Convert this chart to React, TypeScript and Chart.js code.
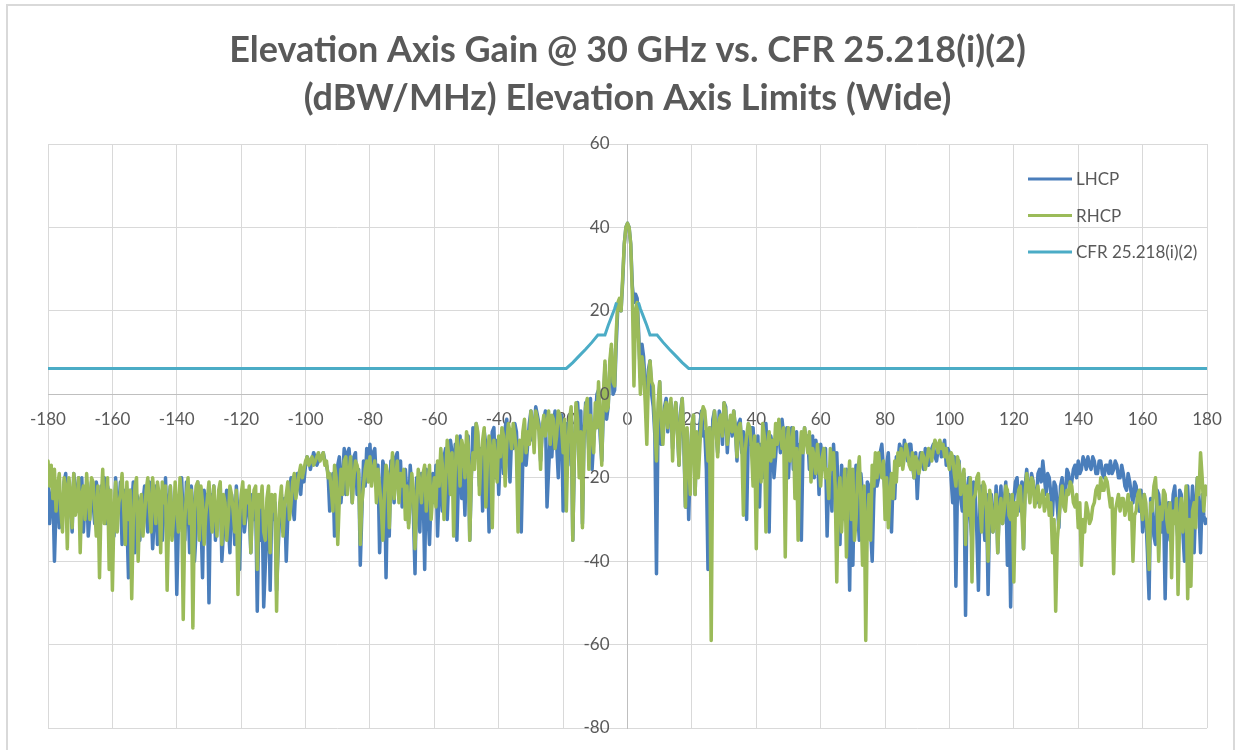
import React, { useEffect, useRef } from "react";
import { Chart, registerables } from "chart.js";

Chart.register(...registerables);

const TITLE_LINES = [
  "Elevation Axis Gain @ 30 GHz vs. CFR 25.218(i)(2)",
  "(dBW/MHz) Elevation Axis Limits (Wide)",
];
const SERIES_NAMES = ["LHCP", "RHCP", "CFR 25.218(i)(2)"];
const SERIES_COLORS = ["#4a7ebb", "#9bbb59", "#4bacc6"];

const ANGLE_START = -180;
const ANGLE_STEP = 0.5;

// LHCP gain (dBW/MHz), every 0.5 degree from -180 to 180
const LHCP = [
  -20, -31, -25, -22, -40, -27, -22, -32, -24, -29, -21, -19, -30, -21, -26, -33, -19, -23, -28, -20,
  -24, -20, -33, -26, -22, -34, -29, -21, -26, -31, -21, -24, -35, -22, -25, -20, -31, -22, -24, -36,
  -29, -34, -20, -28, -27, -21, -36, -24, -23, -30, -44, -23, -27, -21, -38, -24, -25, -35, -30, -26,
  -22, -27, -33, -21, -26, -37, -30, -22, -36, -25, -24, -35, -28, -20, -34, -26, -22, -31, -29, -25,
  -48, -31, -26, -20, -30, -35, -21, -26, -38, -22, -27, -40, -33, -21, -25, -29, -44, -23, -30, -24,
  -50, -24, -28, -22, -35, -30, -26, -22, -40, -33, -27, -23, -31, -38, -24, -27, -36, -22, -29, -42,
  -27, -23, -33, -29, -24, -28, -38, -24, -30, -25, -52, -29, -35, -26, -51, -41, -32, -24, -47, -27,
  -30, -26, -47, -37, -28, -24, -33, -25, -40, -29, -24, -20, -27, -30, -21, -19, -22, -24, -18, -21,
  -17, -15, -16, -18, -16, -14, -15, -17, -16, -15, -15, -14, -16, -17, -19, -28, -22, -19, -34, -30,
  -17, -15, -26, -20, -13, -24, -14, -13, -18, -26, -15, -14, -24, -18, -41, -28, -16, -22, -13, -19,
  -12, -20, -14, -13, -21, -17, -38, -26, -16, -18, -44, -22, -34, -16, -20, -26, -15, -14, -24, -16,
  -27, -21, -18, -24, -31, -17, -22, -29, -43, -20, -25, -33, -19, -22, -42, -18, -28, -36, -24, -19,
  -26, -17, -34, -23, -20, -28, -15, -13, -30, -19, -11, -14, -22, -12, -35, -20, -10, -25, -18, -29,
  -14, -10, -35, -20, -8, -15, -7, -10, -22, -13, -28, -9, -12, -16, -33, -14, -9, -8, -20, -11,
  -24, -14, -11, -19, -8, -6, -14, -21, -10, -13, -7, -9, -18, -12, -33, -15, -9, -17, -12, -7,
  -4, -11, -8, -3, -5, -7, -16, -9, -6, -4, -27, -18, -10, -15, -7, -4, -12, -20, -6, -5,
  -28, -12, -7, -17, -6, -4, -35, -15, -3, -2, -9, -4, -31, -10, -2, -6, -14, -1, -18, -11,
  -6, 0, 1, -10, -16, -4, 7, -6, -3, 6, 11, 0, 1, 12, 21, 22, 20, 27, 36, 40,
  41,
  40, 36, 26, 22, 24, 23, 14, 4, 12, 9, 2, -4, 6, 8, 0, -3, -10, -43, -6, 3,
  -12, -10, -3, -1, -9, -3, -2, -13, -6, -2, -8, -17, -4, -1, -12, -27, -9, -30, -16, -8,
  -5, -24, -10, -16, -7, -4, -10, -9, -18, -42, -8, -20, -6, -4, -9, -14, -4, -6, -12, -2,
  -3, -14, -7, -6, -10, -4, -8, -16, -7, -6, -14, -9, -15, -30, -10, -12, -8, -8, -15, -22,
  -10, -27, -12, -20, -9, -7, -17, -33, -10, -12, -20, -15, -9, -9, -14, -6, -10, -12, -8, -20,
  -11, -8, -18, -14, -9, -26, -12, -35, -13, -8, -12, -10, -18, -15, -10, -20, -11, -14, -24, -12,
  -15, -18, -13, -34, -20, -21, -28, -12, -19, -14, -25, -36, -17, -22, -30, -18, -24, -47, -20, -41,
  -22, -17, -28, -35, -19, -24, -33, -38, -21, -22, -32, -40, -25, -16, -22, -20, -14, -12, -18, -24,
  -17, -14, -22, -33, -20, -25, -15, -16, -12, -13, -17, -11, -14, -16, -12, -12, -17, -20, -14, -25,
  -17, -14, -16, -18, -13, -14, -17, -15, -13, -12, -15, -16, -13, -12, -15, -13, -11, -17, -13, -14,
  -20, -26, -15, -46, -22, -16, -25, -28, -19, -53, -23, -20, -30, -35, -21, -24, -33, -47, -25, -22,
  -29, -35, -24, -48, -27, -24, -33, -30, -22, -38, -26, -22, -31, -26, -21, -41, -24, -51, -28, -25,
  -21, -20, -26, -28, -21, -37, -22, -18, -23, -24, -19, -21, -25, -26, -19, -18, -21, -16, -20, -24,
  -19, -20, -24, -29, -21, -22, -27, -32, -22, -20, -26, -24, -18, -19, -23, -21, -18, -17, -20, -16,
  -19, -18, -15, -16, -18, -15, -17, -18, -15, -16, -19, -19, -16, -16, -19, -20, -17, -17, -19, -16,
  -19, -18, -16, -17, -20, -20, -17, -19, -22, -23, -19, -21, -24, -26, -21, -22, -27, -28, -23, -33,
  -24, -29, -38, -49, -25, -27, -34, -36, -23, -24, -30, -33, -27, -49, -29, -26, -35, -31, -24, -22,
  -30, -35, -23, -24, -33, -40, -25, -22, -31, -30, -22, -38, -26, -20, -28, -38, -24, -29, -31, -30,
];

// RHCP gain (dBW/MHz), every 0.5 degree from -180 to 180
const RHCP = [
  -16, -22, -17, -25, -18, -28, -22, -19, -28, -33, -20, -22, -37, -20, -24, -32, -19, -29, -26, -20,
  -38, -24, -22, -30, -19, -25, -30, -20, -21, -27, -34, -22, -44, -26, -18, -31, -27, -20, -42, -23,
  -47, -28, -21, -33, -26, -24, -19, -27, -36, -21, -30, -23, -49, -30, -22, -20, -40, -27, -24, -34,
  -29, -23, -20, -27, -33, -20, -25, -31, -21, -24, -38, -21, -26, -22, -47, -29, -22, -35, -30, -21,
  -27, -33, -20, -25, -54, -30, -24, -20, -31, -23, -56, -28, -22, -21, -35, -22, -26, -36, -29, -25,
  -21, -27, -33, -22, -28, -34, -23, -21, -36, -24, -26, -35, -30, -22, -24, -28, -33, -23, -48, -30,
  -24, -21, -31, -23, -26, -22, -38, -28, -23, -22, -42, -24, -27, -22, -33, -35, -25, -22, -38, -24,
  -28, -24, -52, -32, -26, -22, -34, -27, -24, -21, -30, -26, -21, -19, -25, -22, -19, -17, -20, -18,
  -16, -15, -17, -16, -15, -17, -16, -15, -14, -16, -15, -14, -17, -16, -20, -19, -23, -28, -17, -20,
  -36, -25, -18, -24, -16, -15, -24, -19, -15, -26, -20, -16, -17, -19, -36, -26, -22, -18, -16, -21,
  -15, -22, -18, -16, -26, -18, -22, -27, -35, -24, -17, -19, -32, -21, -14, -25, -20, -16, -26, -19,
  -22, -18, -30, -22, -32, -26, -19, -23, -37, -27, -18, -21, -26, -19, -17, -28, -22, -17, -30, -24,
  -20, -27, -16, -22, -13, -17, -30, -21, -11, -15, -24, -14, -34, -18, -10, -14, -22, -11, -13, -20,
  -9, -12, -35, -19, -14, -18, -7, -9, -24, -15, -11, -8, -27, -16, -10, -13, -32, -11, -16, -21,
  -10, -15, -8, -10, -22, -12, -7, -9, -13, -7, -10, -14, -33, -11, -16, -9, -6, -14, -9, -12,
  -4, -7, -14, -4, -6, -9, -18, -8, -5, -10, -7, -4, -12, -5, -6, -13, -10, -4, -5, -8,
  -14, -6, -28, -12, -6, -3, -35, -14, -2, -6, -20, -9, -32, -10, -3, -1, -18, -5, -9, -14,
  -2, -8, 3, -6, -17, 0, 8, -4, -3, 8, 12, 3, 2, 15, 22, 23, 20, 28, 36, 40,
  41,
  40, 36, 24, 2, 20, 22, 12, 0, 9, 6, -2, -12, 4, 8, 3, 2, -8, -16, -2, 3,
  -6, -12, -4, -2, -8, -3, -1, -16, -5, -2, -9, -17, -5, -1, -10, -27, -8, -16, -24, -7,
  -5, -24, -9, -20, -12, -5, -3, -4, -9, -16, -8, -59, -10, -4, -8, -15, -6, -5, -10, -2,
  -4, -12, -8, -5, -9, -4, -8, -15, -8, -7, -12, -29, -14, -10, -7, -8, -13, -22, -10, -37,
  -12, -14, -21, -7, -10, -33, -12, -9, -16, -11, -15, -7, -12, -6, -10, -13, -8, -39, -12, -8,
  -16, -12, -8, -25, -13, -35, -15, -9, -14, -8, -11, -14, -9, -21, -13, -15, -19, -12, -17, -22,
  -15, -13, -20, -18, -25, -13, -18, -14, -22, -45, -24, -20, -33, -25, -18, -39, -22, -16, -30, -18,
  -35, -30, -19, -15, -26, -41, -22, -59, -30, -24, -35, -17, -22, -14, -20, -14, -18, -20, -16, -30,
  -20, -32, -24, -19, -25, -16, -21, -14, -17, -13, -18, -15, -12, -14, -17, -18, -14, -20, -15, -16,
  -19, -17, -14, -15, -18, -16, -13, -14, -16, -13, -11, -12, -14, -11, -13, -12, -15, -13, -16, -18,
  -14, -15, -19, -22, -15, -17, -24, -20, -18, -36, -22, -29, -20, -45, -25, -24, -20, -19, -27, -33,
  -21, -22, -28, -40, -23, -26, -33, -31, -24, -38, -28, -25, -31, -28, -22, -23, -29, -30, -24, -45,
  -26, -29, -23, -22, -29, -37, -24, -19, -22, -26, -20, -21, -27, -24, -22, -27, -25, -23, -28, -26,
  -24, -29, -26, -38, -30, -52, -35, -30, -25, -22, -27, -28, -23, -24, -21, -22, -26, -27, -24, -32,
  -26, -41, -30, -33, -26, -28, -31, -30, -27, -26, -23, -22, -25, -20, -23, -23, -20, -21, -24, -27,
  -25, -43, -28, -26, -24, -28, -25, -25, -29, -27, -24, -30, -26, -40, -29, -28, -24, -23, -27, -30,
  -24, -26, -33, -42, -26, -28, -22, -20, -27, -40, -27, -30, -23, -24, -30, -33, -26, -44, -28, -31,
  -25, -48, -30, -25, -33, -28, -22, -49, -30, -46, -28, -26, -32, -20, -24, -14, -20, -28, -22, -24,
];

// CFR 25.218(i)(2) mask
const CFR_ANGLES = [
  -180, -19, -17, -15, -13, -11, -9.2, -7, -6, -5, -4, -3.4,
  0,
  3.4, 4, 5, 6, 7, 9.2, 11, 13, 15, 17, 19, 180,
];
const CFR_GAIN = [
  6.2, 6.2, 7.6, 9.2, 10.8, 12.5, 14.2, 14.2, 16.5, 18.5, 20.5, 22,
  null,
  22, 20.5, 18.5, 16.5, 14.2, 14.2, 12.5, 10.8, 9.2, 7.6, 6.2, 6.2,
];

const X_MIN = -180;
const X_MAX = 180;
const X_STEP = 20;
const Y_MIN = -80;
const Y_MAX = 60;
const Y_STEP = 20;

const FONT = "Lato, 'Open Sans', sans-serif";
const TEXT_COLOR = "#595959";
const TICK_FONT_SIZE = 17;

// Legend drawn inside the plot area, top right, one entry per row
const insideLegend = {
  id: "insideLegend",
  afterDraw(chart: any) {
    const { ctx, chartArea } = chart;
    const x0 = chartArea.right - 179;
    ctx.save();
    chart.data.datasets.forEach((ds: any, i: number) => {
      const y = chartArea.top + 35 + i * 36.5;
      ctx.strokeStyle = ds.borderColor;
      ctx.lineWidth = 3;
      ctx.lineCap = "butt";
      ctx.beginPath();
      ctx.moveTo(x0, y);
      ctx.lineTo(x0 + 44, y);
      ctx.stroke();
      ctx.fillStyle = TEXT_COLOR;
      ctx.font = `${TICK_FONT_SIZE}px ${FONT}`;
      ctx.textBaseline = "middle";
      ctx.textAlign = "left";
      ctx.fillText(ds.label, x0 + 48, y + 1);
    });
    ctx.restore();
  },
};

// Y tick labels placed just left of the y axis that crosses at x = 0
const yAxisLabels = {
  id: "yAxisLabels",
  afterDatasetsDraw(chart: any) {
    const { ctx, scales } = chart;
    const yScale = scales.y;
    const xPix = scales.x.getPixelForValue(0) - 18;
    ctx.save();
    ctx.fillStyle = TEXT_COLOR;
    ctx.font = `${TICK_FONT_SIZE}px ${FONT}`;
    ctx.textAlign = "right";
    ctx.textBaseline = "middle";
    yScale.ticks.forEach((t: any) => {
      ctx.fillText(String(t.value), xPix, yScale.getPixelForValue(t.value));
    });
    ctx.restore();
  },
};

export default function App() {
  const canvasRef = useRef<HTMLCanvasElement | null>(null);

  useEffect(() => {
    document.body.style.margin = "0";
    const angles = LHCP.map((_, i) => ANGLE_START + i * ANGLE_STEP);
    const lhcp = angles.map((a, i) => ({ x: a, y: LHCP[i] }));
    const rhcp = angles.map((a, i) => ({ x: a, y: RHCP[i] }));
    const cfr = CFR_ANGLES.map((a, i) => ({ x: a, y: CFR_GAIN[i] }));

    const lineCommon = {
      pointRadius: 0,
      borderWidth: 3.5,
      tension: 0,
      fill: false,
      borderJoinStyle: "round" as const,
      borderCapStyle: "round" as const,
      spanGaps: false,
    };

    const chart = new Chart(canvasRef.current!, {
      type: "line",
      data: {
        datasets: [
          { ...lineCommon, label: SERIES_NAMES[0], data: lhcp, borderColor: SERIES_COLORS[0], backgroundColor: SERIES_COLORS[0], order: 3 },
          { ...lineCommon, label: SERIES_NAMES[1], data: rhcp, borderColor: SERIES_COLORS[1], backgroundColor: SERIES_COLORS[1], order: 2 },
          { ...lineCommon, label: SERIES_NAMES[2], data: cfr as any, borderColor: SERIES_COLORS[2], backgroundColor: SERIES_COLORS[2], order: 1, borderWidth: 3, borderJoinStyle: "miter" as const, borderCapStyle: "butt" as const },
        ],
      },
      options: {
        responsive: false,
        animation: false,
        devicePixelRatio: 1,
        layout: { padding: { left: 48, right: 36, top: 0, bottom: 22 } },
        plugins: {
          legend: { display: false },
          tooltip: { enabled: false },
          title: {
            display: true,
            text: TITLE_LINES,
            color: TEXT_COLOR,
            font: { family: FONT, size: 36, weight: "bold", lineHeight: 48 / 36 },
            padding: { top: 26, bottom: 22 },
          },
        },
        scales: {
          x: {
            type: "linear",
            min: X_MIN,
            max: X_MAX,
            position: { y: 0 } as any,
            ticks: { stepSize: X_STEP, color: TEXT_COLOR, font: { family: FONT, size: TICK_FONT_SIZE }, padding: 15, maxRotation: 0 },
            grid: { color: "#d9d9d9", lineWidth: 1, drawTicks: false },
            border: { color: "#bfbfbf", width: 1 },
          },
          y: {
            type: "linear",
            min: Y_MIN,
            max: Y_MAX,
            position: { x: 0 } as any,
            ticks: { stepSize: Y_STEP, display: false },
            grid: { color: "#d9d9d9", lineWidth: 1, drawTicks: false },
            border: { color: "#bfbfbf", width: 1 },
          },
        },
      },
      plugins: [yAxisLabels, insideLegend],
    });
    return () => chart.destroy();
  }, []);

  return (
    <div style={{ position: "fixed", left: 0, top: 0, width: 1243, height: 750, background: "#fff", overflow: "hidden" }}>
      <canvas ref={canvasRef} width={1243} height={750} style={{ position: "absolute", left: 0, top: 0, width: 1243, height: 750 }} />
      <div style={{ position: "absolute", left: 6, top: 4, width: 1225, height: 800, border: "2px solid #d9d9d9", pointerEvents: "none" }} />
    </div>
  );
}
